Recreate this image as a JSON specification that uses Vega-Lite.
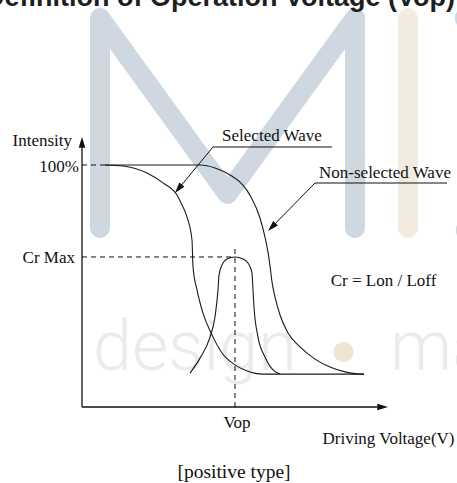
{
  "$schema": "https://vega.github.io/schema/vega-lite/v6.json",
  "width": 457,
  "height": 483,
  "autosize": "none",
  "padding": 0,
  "background": "white",
  "config": {"view": {"stroke": null}},
  "datasets": {
    "watermark": [
      {"part": "M", "i": 0, "x": 1.8, "y": 73.97},
      {"part": "M", "i": 1, "x": 1.8, "y": 160.74},
      {"part": "M", "i": 2, "x": 14.55, "y": 88.02},
      {"part": "M", "i": 3, "x": 27.3, "y": 160.74},
      {"part": "M", "i": 4, "x": 27.3, "y": 73.97},
      {"part": "bar", "i": 0, "x": 32.6, "y": 160.74},
      {"part": "bar", "i": 1, "x": 32.6, "y": 73.97}
    ],
    "watermarkDots": [
      {"part": "blue", "x": 38.4, "y": 160.7},
      {"part": "blue", "x": 38.5, "y": 73.1},
      {"part": "beige", "x": 26.15, "y": 22.73}
    ],
    "watermarkText": [
      {"text": "design", "x": 1.1, "y": 15.29},
      {"text": "ma", "x": 30.8, "y": 15.29}
    ],
    "curves": [
      {"curve": "Selected Wave", "x": 2.3, "y": 100},
      {"curve": "Selected Wave", "x": 4.1, "y": 99.6},
      {"curve": "Selected Wave", "x": 6.5, "y": 96.7},
      {"curve": "Selected Wave", "x": 8.1, "y": 92.6},
      {"curve": "Selected Wave", "x": 9.5, "y": 87.6},
      {"curve": "Selected Wave", "x": 10.0, "y": 83.5},
      {"curve": "Selected Wave", "x": 10.5, "y": 78.5},
      {"curve": "Selected Wave", "x": 11.0, "y": 69.0},
      {"curve": "Selected Wave", "x": 11.1, "y": 57.9},
      {"curve": "Selected Wave", "x": 11.5, "y": 48.4},
      {"curve": "Selected Wave", "x": 12.1, "y": 38.8},
      {"curve": "Selected Wave", "x": 13.0, "y": 29.8},
      {"curve": "Selected Wave", "x": 14.0, "y": 22.3},
      {"curve": "Selected Wave", "x": 15.3, "y": 17.4},
      {"curve": "Selected Wave", "x": 16.8, "y": 14.5},
      {"curve": "Selected Wave", "x": 18.1, "y": 13.6},
      {"curve": "Selected Wave", "x": 28.2, "y": 13.6},
      {"curve": "Non-selected Wave", "x": 2.3, "y": 100},
      {"curve": "Non-selected Wave", "x": 11.8, "y": 100},
      {"curve": "Non-selected Wave", "x": 13.3, "y": 98.8},
      {"curve": "Non-selected Wave", "x": 14.8, "y": 95.9},
      {"curve": "Non-selected Wave", "x": 16.1, "y": 91.7},
      {"curve": "Non-selected Wave", "x": 16.9, "y": 86.8},
      {"curve": "Non-selected Wave", "x": 17.8, "y": 78.1},
      {"curve": "Non-selected Wave", "x": 18.3, "y": 70.2},
      {"curve": "Non-selected Wave", "x": 18.6, "y": 64.0},
      {"curve": "Non-selected Wave", "x": 18.8, "y": 58.3},
      {"curve": "Non-selected Wave", "x": 19.0, "y": 51.7},
      {"curve": "Non-selected Wave", "x": 19.3, "y": 45.5},
      {"curve": "Non-selected Wave", "x": 19.8, "y": 38.0},
      {"curve": "Non-selected Wave", "x": 20.6, "y": 30.6},
      {"curve": "Non-selected Wave", "x": 21.8, "y": 24.8},
      {"curve": "Non-selected Wave", "x": 23.3, "y": 19.8},
      {"curve": "Non-selected Wave", "x": 24.8, "y": 16.5},
      {"curve": "Non-selected Wave", "x": 26.3, "y": 14.5},
      {"curve": "Non-selected Wave", "x": 27.8, "y": 13.6},
      {"curve": "Non-selected Wave", "x": 28.2, "y": 13.6},
      {"curve": "Cr", "x": 10.8, "y": 14.0},
      {"curve": "Cr", "x": 11.8, "y": 20.2},
      {"curve": "Cr", "x": 12.8, "y": 28.9},
      {"curve": "Cr", "x": 13.3, "y": 37.2},
      {"curve": "Cr", "x": 13.6, "y": 48.4},
      {"curve": "Cr", "x": 13.7, "y": 54.5},
      {"curve": "Cr", "x": 14.0, "y": 58.7},
      {"curve": "Cr", "x": 14.5, "y": 61.2},
      {"curve": "Cr", "x": 15.3, "y": 62.0},
      {"curve": "Cr", "x": 16.1, "y": 61.2},
      {"curve": "Cr", "x": 16.6, "y": 59.5},
      {"curve": "Cr", "x": 17.0, "y": 55.4},
      {"curve": "Cr", "x": 17.1, "y": 48.4},
      {"curve": "Cr", "x": 17.2, "y": 41.3},
      {"curve": "Cr", "x": 17.6, "y": 28.9},
      {"curve": "Cr", "x": 18.3, "y": 20.7},
      {"curve": "Cr", "x": 19.1, "y": 15.3},
      {"curve": "Cr", "x": 19.8, "y": 13.6}
    ],
    "axes": [
      {"name": "Intensity axis", "x": 0, "y": 0, "x2": 0, "y2": 108.3},
      {"name": "Voltage axis", "x": 0, "y": 0, "x2": 29.5, "y2": 0}
    ],
    "guides": [
      {"name": "100%", "x": 0, "y": 100, "x2": 2.3, "y2": 100},
      {"name": "Cr Max", "x": 0, "y": 62, "x2": 15.3, "y2": 62},
      {"name": "Vop", "x": 15.3, "y": 0, "x2": 15.3, "y2": 66.1}
    ],
    "leaders": [
      {"leader": "Selected Wave", "i": 0, "x": 9.68, "y": 90.33},
      {"leader": "Selected Wave", "i": 1, "x": 13.1, "y": 107.44},
      {"leader": "Selected Wave", "i": 2, "x": 25.0, "y": 107.44},
      {"leader": "Non-selected Wave", "i": 0, "x": 19.02, "y": 74.5},
      {"leader": "Non-selected Wave", "i": 1, "x": 23.3, "y": 92.56},
      {"leader": "Non-selected Wave", "i": 2, "x": 36.5, "y": 92.56}
    ],
    "arrows": [
      {"name": "Intensity axis", "x": 0, "y": 109.09},
      {"name": "Voltage axis", "x": 30.0, "y": 0},
      {"name": "Selected Wave", "x": 9.68, "y": 90.33},
      {"name": "Non-selected Wave", "x": 19.02, "y": 74.5}
    ],
    "labels": [
      {"role": "y-label", "text": "Intensity", "x": -1.0, "y": 107.85},
      {"role": "y-label", "text": "100%", "x": -0.3, "y": 97.31},
      {"role": "y-label", "text": "Cr Max", "x": -0.7, "y": 59.5},
      {"role": "annotation", "text": "Selected Wave", "x": 19.0, "y": 109.92},
      {"role": "annotation", "text": "Non-selected Wave", "x": 30.3, "y": 94.63},
      {"role": "annotation", "text": "Cr = Lon / Loff", "x": 30.15, "y": 50.0},
      {"role": "annotation", "text": "Vop", "x": 15.5, "y": -8.8},
      {"role": "annotation", "text": "Driving Voltage(V)", "x": 30.65, "y": -15.29},
      {"role": "caption", "text": "[positive type]", "x": 15.2, "y": -29.46},
      {"role": "title", "text": "Definition of Operation Voltage (Vop)", "x": 37.3, "y": 165.7}
    ]
  },
  "encoding": {
    "x": {"field": "x", "type": "quantitative", "scale": {"domain": [-8.2, 37.5], "nice": false, "zero": false}, "axis": null},
    "y": {"field": "y", "type": "quantitative", "scale": {"domain": [-31.405, 168.182], "nice": false, "zero": false}, "axis": null}
  },
  "layer": [
    {
      "data": {"name": "watermark"},
      "transform": [{"filter": "datum.part === 'M'"}],
      "mark": {"type": "line", "color": "#cfd8e0", "strokeWidth": 20, "strokeCap": "round", "strokeJoin": "round"},
      "encoding": {"order": {"field": "i", "type": "quantitative"}}
    },
    {
      "data": {"name": "watermark"},
      "transform": [{"filter": "datum.part === 'bar'"}],
      "mark": {"type": "line", "color": "#f3ebdf", "strokeWidth": 20, "strokeCap": "round"},
      "encoding": {"order": {"field": "i", "type": "quantitative"}}
    },
    {
      "data": {"name": "watermarkDots"},
      "transform": [{"filter": "datum.part === 'blue'"}],
      "mark": {"type": "circle", "color": "#cfd8e0", "size": 500, "opacity": 1}
    },
    {
      "data": {"name": "watermarkDots"},
      "transform": [{"filter": "datum.part === 'beige'"}],
      "mark": {"type": "circle", "color": "#f0e5d5", "size": 415, "opacity": 1}
    },
    {
      "data": {"name": "watermarkText"},
      "mark": {"type": "text", "align": "left", "baseline": "alphabetic", "font": "Roboto", "fontWeight": 300, "fontSize": 70, "color": "#ebebeb"},
      "encoding": {"text": {"field": "text"}}
    },
    {
      "data": {"name": "curves"},
      "mark": {"type": "line", "interpolate": "monotone", "color": "#1a1a1a", "strokeWidth": 1.1},
      "encoding": {"detail": {"field": "curve"}}
    },
    {
      "data": {"name": "axes"},
      "mark": {"type": "rule", "color": "#111", "strokeWidth": 1.3},
      "encoding": {"x2": {"field": "x2"}, "y2": {"field": "y2"}}
    },
    {
      "data": {"name": "guides"},
      "mark": {"type": "rule", "color": "#111", "strokeWidth": 1, "strokeDash": [5, 4]},
      "encoding": {"x2": {"field": "x2"}, "y2": {"field": "y2"}}
    },
    {
      "data": {"name": "leaders"},
      "mark": {"type": "line", "color": "#111", "strokeWidth": 1},
      "encoding": {"detail": {"field": "leader"}, "order": {"field": "i", "type": "quantitative"}}
    },
    {
      "data": {"name": "arrows"},
      "transform": [{"filter": "datum.name === 'Intensity axis'"}],
      "mark": {"type": "point", "shape": "M0,-1L0.55,0.8L-0.55,0.8Z", "size": 144, "filled": true, "color": "#111", "opacity": 1, "angle": 0}
    },
    {
      "data": {"name": "arrows"},
      "transform": [{"filter": "datum.name === 'Voltage axis'"}],
      "mark": {"type": "point", "shape": "M0,-1L0.55,0.8L-0.55,0.8Z", "size": 144, "filled": true, "color": "#111", "opacity": 1, "angle": 90}
    },
    {
      "data": {"name": "arrows"},
      "transform": [{"filter": "datum.name === 'Selected Wave'"}],
      "mark": {"type": "point", "shape": "M0,-1L0.55,0.8L-0.55,0.8Z", "size": 144, "filled": true, "color": "#111", "opacity": 1, "angle": 219.6}
    },
    {
      "data": {"name": "arrows"},
      "transform": [{"filter": "datum.name === 'Non-selected Wave'"}],
      "mark": {"type": "point", "shape": "M0,-1L0.55,0.8L-0.55,0.8Z", "size": 144, "filled": true, "color": "#111", "opacity": 1, "angle": 223.8}
    },
    {
      "data": {"name": "labels"},
      "transform": [{"filter": "datum.role === 'y-label'"}],
      "mark": {"type": "text", "align": "right", "baseline": "alphabetic", "font": "Liberation Serif", "fontSize": 17, "color": "#111"},
      "encoding": {"text": {"field": "text"}}
    },
    {
      "data": {"name": "labels"},
      "transform": [{"filter": "datum.role === 'annotation'"}],
      "mark": {"type": "text", "align": "center", "baseline": "alphabetic", "font": "Liberation Serif", "fontSize": 17, "color": "#111"},
      "encoding": {"text": {"field": "text"}}
    },
    {
      "data": {"name": "labels"},
      "transform": [{"filter": "datum.role === 'caption'"}],
      "mark": {"type": "text", "align": "center", "baseline": "alphabetic", "font": "Liberation Serif", "fontSize": 19.5, "color": "#111"},
      "encoding": {"text": {"field": "text"}}
    },
    {
      "data": {"name": "labels"},
      "transform": [{"filter": "datum.role === 'title'"}],
      "mark": {"type": "text", "align": "right", "baseline": "alphabetic", "font": "Liberation Sans", "fontWeight": "bold", "fontSize": 27, "color": "#1e1e1e"},
      "encoding": {"text": {"field": "text"}}
    }
  ]
}
